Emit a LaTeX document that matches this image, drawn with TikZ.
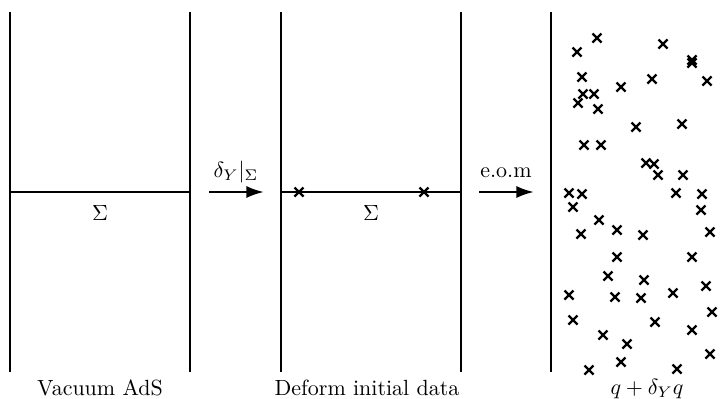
\documentclass[tikz,border=0pt]{standalone}
\usetikzlibrary{arrows.meta}
\usetikzlibrary{math, shapes.misc}

\tikzset{
  wall/.style={line width=1.2pt},
  xmark/.style={draw, cross out, line width=1.1pt, inner sep=0pt, minimum size=3pt},
  flow/.style={-{Latex[length=8pt,width=5.5pt]}, line width=1.1pt},
}

\begin{document}
\begin{tikzpicture}[x=0.016cm, y=-0.016cm]
\tikzmath{
\yt=12;
\yb=372;
\W=180;
\ym=192;
}
\useasboundingbox (0,0) rectangle (721,398);

%%%%%%%%%%  left: vacuum
\begin{scope}[shift={(10,0)}]
\draw[wall] (0,\yt) -- (0,\yb);
\draw[wall] (\W,\yt) -- (\W,\yb);
\draw[wall] (0,\ym) -- (\W,\ym);
\node (sigA) at (\W/2,213) {$\Sigma$};
\node[anchor=base] (labA) at (\W/2,395) {Vacuum AdS};
\end{scope}

\coordinate (fromA) at (209,\ym);
\coordinate (toB) at (264,\ym);
\draw[flow] (fromA) -- (toB);
\node[anchor=base] (defl) at (236,177) {$\delta_Y|_\Sigma$};

%%%%%%%%%%  middle: deformed data
\begin{scope}[shift={(281,0)}]
\draw[wall] (0,\yt) -- (0,\yb);
\draw[wall] (\W,\yt) -- (\W,\yb);
\draw[wall] (0,\ym) -- (\W,\ym);
\node[xmark] (srcA) at (18,\ym) {};
\node[xmark] (srcB) at (143,\ym) {};
\node (sigB) at (\W/2,213) {$\Sigma$};
\node[anchor=base] (labB) at (\W/2-4,395) {Deform initial data};
\end{scope}

\coordinate (fromB) at (479,\ym);
\coordinate (toC) at (534,\ym);
\draw[flow] (fromB) -- (toC);
\node[anchor=base] (eom) at (506,177) {e.o.m};

%%%%%%%%%%  right: evolved state
\draw[wall] (551,\yt) -- (551,\yb);
\foreach \px/\py [count=\i] in {597/38,577/52,663/44,692/60,692/63,582/77,652/79,707/81,
  621/87,583/94,594/94,578/103,598/109,636/127,682/124,584/145,601/145,646/163,654/164,
  658/175,683/175,569/193,582/194,676/193,702/194,573/207,701/210,599/220,617/230,
  581/234,643/235,710/232,617/257,692/257,608/276,644/280,706/286,569/295,615/297,
  641/298,673/293,712/312,573/320,655/322,692/330,603/335,627/344,710/354,621/362,
  589/370,677/369}
  \node[xmark] (q\i) at (\px,\py) {};
\node[anchor=base] (labC) at (647,394) {$q+\delta_Y q$};

\end{tikzpicture}
\end{document}
